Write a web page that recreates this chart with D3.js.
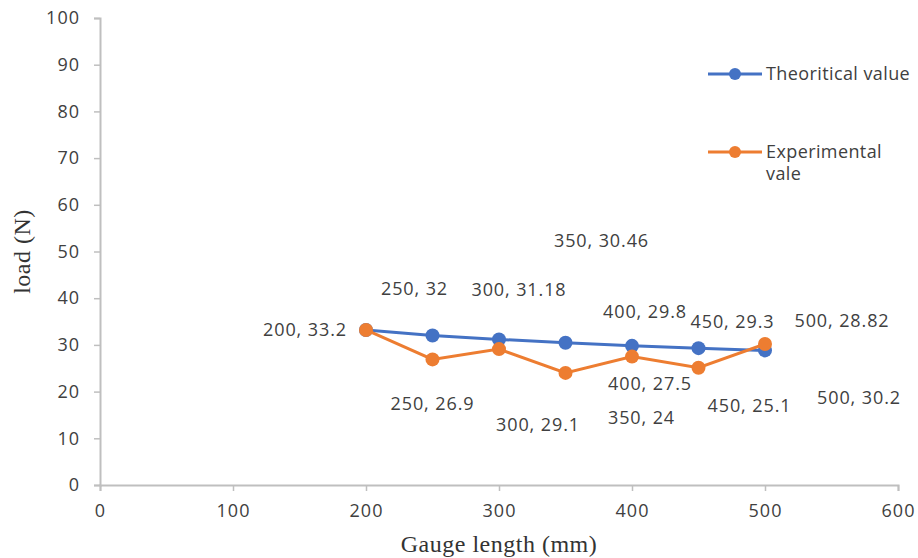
<!DOCTYPE html>
<html>
<head>
<meta charset="utf-8">
<script src="https://cdn.jsdelivr.net/npm/d3@7"></script>
<style>
  body { margin: 0; background: #fff; }
  .tick text { font-family: "Open Sans", sans-serif; font-size: 18px; letter-spacing: 1px; fill: #404040; }
  .data-label { font-family: "Open Sans", sans-serif; font-size: 18px; letter-spacing: 0.9px; fill: #404040; }
  .legend text { font-family: "Open Sans", sans-serif; font-size: 18px; letter-spacing: 0.4px; fill: #404040; }
  .axis-title { font-family: "Liberation Serif", "Times New Roman", serif; font-size: 24px; letter-spacing: 0.5px; fill: #333; }
</style>
</head>
<body>
<div id="chart"></div>
<script>
// data
const gaugeLength = [200, 250, 300, 350, 400, 450, 500];
const theoretical = [33.2, 32, 31.18, 30.46, 29.8, 29.3, 28.82];
const experimental = [33.2, 26.9, 29.1, 24, 27.5, 25.1, 30.2];
const xTicks = [0, 100, 200, 300, 400, 500, 600];
const yTicks = [0, 10, 20, 30, 40, 50, 60, 70, 80, 90, 100];

// label offsets from their point (px), dragged around like in the original
const theoLabelOffsets = [[-61, 0], [-18, -47], [20, -50], [36, -102], [13, -34], [34, -26], [77, -30]];
const expLabelOffsets = [null, [0, 44], [39, 76], [76, 45], [18, 27], [51, 38], [94, 54]];

const width = 918;
const height = 558;
const marginTop = 18;
const marginBottom = 73;
const marginLeft = 100;
const marginRight = 20;
const chartWidth = width - marginLeft - marginRight;
const chartHeight = height - marginTop - marginBottom;

const svg = d3.select('#chart').append('svg')
  .attr('width', width)
  .attr('height', height);

const chart = svg.append('g')
  .attr('transform', `translate(${marginLeft}, ${marginTop})`);

const x = d3.scaleLinear().domain([0, 600]).range([0, chartWidth]);
const y = d3.scaleLinear().domain([0, 100]).range([chartHeight, 0]);

// axes
const xAxis = chart.append('g')
  .attr('transform', `translate(0, ${chartHeight})`)
  .call(d3.axisBottom(x).tickValues(xTicks).tickSize(6).tickPadding(13));
const yAxis = chart.append('g')
  .call(d3.axisLeft(y).tickValues(yTicks).tickSize(6).tickPadding(14));

[xAxis, yAxis].forEach(a => {
  a.select('.domain').attr('stroke', '#bfbfbf').attr('stroke-width', 2);
  a.selectAll('.tick line').attr('stroke', '#bfbfbf').attr('stroke-width', 1.5);
});

// series
const series = [
  { name: 'Theoritical value', values: theoretical, color: '#4472C4', offsets: theoLabelOffsets },
  { name: 'Experimental vale', values: experimental, color: '#ED7D31', offsets: expLabelOffsets }
];

const line = d3.line()
  .x(d => x(d[0]))
  .y(d => y(d[1]));

series.forEach(s => {
  const pts = gaugeLength.map((g, i) => [g, s.values[i]]);

  chart.append('path')
    .datum(pts)
    .attr('fill', 'none')
    .attr('stroke', s.color)
    .attr('stroke-width', 3)
    .attr('d', line);

  chart.selectAll(null)
    .data(pts)
    .enter().append('circle')
    .attr('cx', d => x(d[0]))
    .attr('cy', d => y(d[1]))
    .attr('r', 7)
    .attr('fill', s.color);
});

// data labels
series.forEach(s => {
  gaugeLength.forEach((g, i) => {
    const off = s.offsets[i];
    if (!off) return;
    chart.append('text')
      .attr('class', 'data-label')
      .attr('x', x(g) + off[0])
      .attr('y', y(s.values[i]) + off[1])
      .attr('dy', '0.35em')
      .attr('text-anchor', 'middle')
      .text(`${g}, ${s.values[i]}`);
  });
});

// legend
const legend = svg.append('g').attr('class', 'legend');
const legendRows = [
  { lines: ['Theoritical value'], y: 74 },
  { lines: ['Experimental', 'vale'], y: 152 }
];
legendRows.forEach((r, i) => {
  const g = legend.append('g').attr('transform', `translate(708, ${r.y})`);
  g.append('line')
    .attr('x1', 0).attr('x2', 54)
    .attr('stroke', series[i].color)
    .attr('stroke-width', 3);
  g.append('circle')
    .attr('cx', 27).attr('r', 6)
    .attr('fill', series[i].color);
  r.lines.forEach((t, j) => {
    g.append('text')
      .attr('x', 58)
      .attr('y', j * 22)
      .attr('dy', '0.35em')
      .text(t);
  });
});

// axis titles
svg.append('text')
  .attr('class', 'axis-title')
  .attr('x', marginLeft + chartWidth * 0.5)
  .attr('y', 552)
  .attr('text-anchor', 'middle')
  .text('Gauge length (mm)');

svg.append('text')
  .attr('class', 'axis-title')
  .attr('transform', `translate(30, ${marginTop + chartHeight / 2}) rotate(-90)`)
  .attr('text-anchor', 'middle')
  .text('load (N)');
</script>
</body>
</html>
